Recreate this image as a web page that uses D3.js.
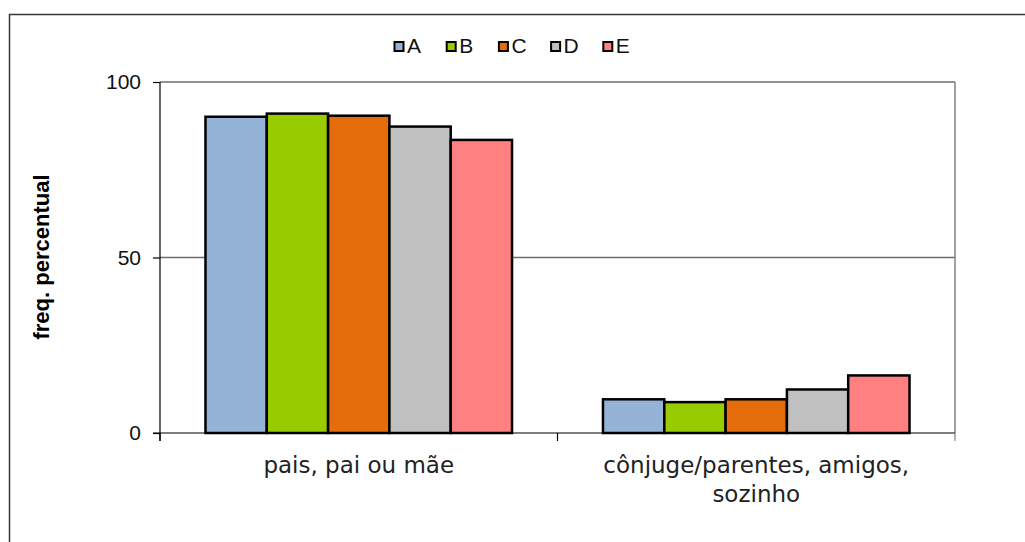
<!DOCTYPE html>
<html>
<head>
<meta charset="utf-8">
<script src="https://cdn.jsdelivr.net/npm/d3@7"></script>
<style>
  html, body { margin: 0; padding: 0; background: #fff; }
  svg { display: block; }
</style>
</head>
<body>
<svg id="chart" width="1025" height="542"></svg>
<script>
// ---- data ----
const categories = ["pais, pai ou mãe", "cônjuge/parentes, amigos, sozinho"];
const seriesNames = ["A", "B", "C", "D", "E"];
const valuesA = [90.1, 9.6];
const valuesB = [91.0, 8.8];
const valuesC = [90.4, 9.6];
const valuesD = [87.3, 12.4];
const valuesE = [83.5, 16.4];
const yTicks = [0, 50, 100];
const yTitle = "freq. percentual";

const seriesValues = [valuesA, valuesB, valuesC, valuesD, valuesE];
const colors = ["#95B3D7", "#99CC00", "#E46C0A", "#C0C0C0", "#FF8080"];

const svg = d3.select("#chart");

// outer chart border
svg.append("rect")
  .attr("x", 9.5).attr("y", 14.5)
  .attr("width", 1100).attr("height", 600)
  .attr("fill", "none").attr("stroke", "#3a3a3a").attr("stroke-width", 1.5);

const plot = { left: 160, right: 955, top: 82, bottom: 433 };

const x = d3.scaleBand().domain(categories).range([plot.left, plot.right]).padding(0);
const xs = d3.scaleBand().domain(seriesNames).range([0, x.bandwidth()])
  .paddingInner(0).paddingOuter(0.742);
const y = d3.scaleLinear().domain([0, 100]).range([plot.bottom, plot.top]);

// gridlines
svg.append("g").selectAll("line").data(yTicks.filter(d => d > 0)).join("line")
  .attr("x1", plot.left).attr("x2", plot.right)
  .attr("y1", d => y(d)).attr("y2", d => y(d))
  .attr("stroke", "#6e6e6e").attr("stroke-width", 1.5);

// plot area right border
svg.append("line")
  .attr("x1", plot.right).attr("x2", plot.right)
  .attr("y1", plot.top).attr("y2", plot.bottom)
  .attr("stroke", "#808080").attr("stroke-width", 1.5);

// bars
const groups = svg.append("g").selectAll("g").data(categories).join("g")
  .attr("transform", d => `translate(${x(d)},0)`);
groups.selectAll("rect")
  .data((c, ci) => seriesNames.map((s, si) => ({ s, si, v: seriesValues[si][ci] })))
  .join("rect")
  .attr("x", d => xs(d.s))
  .attr("width", xs.bandwidth())
  .attr("y", d => y(d.v))
  .attr("height", d => y(0) - y(d.v))
  .attr("fill", d => colors[d.si])
  .attr("stroke", "#000").attr("stroke-width", 2.5);

// y axis
const yAxis = d3.axisLeft(y).tickValues(yTicks).tickSize(7).tickPadding(12).tickFormat(d3.format("d"));
const gy = svg.append("g").attr("transform", `translate(${plot.left},0)`).call(yAxis);
gy.select(".domain").attr("stroke", "#000").attr("stroke-width", 1.2)
  .attr("d", `M0,${plot.top}V${plot.bottom + 8}`);
gy.selectAll(".tick line").attr("stroke", "#000").attr("stroke-width", 1.2);
gy.selectAll(".tick text")
  .attr("font-family", "'Liberation Sans', Arial, sans-serif")
  .attr("font-size", 21).attr("fill", "#111");

// x axis (ticks at category boundaries)
const boundaries = categories.map(c => x(c)).concat([plot.right]);
svg.append("line")
  .attr("x1", plot.left - 7).attr("x2", plot.right)
  .attr("y1", plot.bottom).attr("y2", plot.bottom)
  .attr("stroke", "#000").attr("stroke-width", 1.2);
svg.append("g").selectAll("line").data(boundaries).join("line")
  .attr("x1", d => d).attr("x2", d => d)
  .attr("y1", plot.bottom).attr("y2", plot.bottom + 8)
  .attr("stroke", (d, i) => i === boundaries.length - 1 ? "#808080" : "#000")
  .attr("stroke-width", 1.2);

// category labels with wrapping
const labelFont = "'DejaVu Sans', sans-serif";
const labelSize = 23;
const lab = svg.append("g");
categories.forEach(c => {
  const cx = x(c) + x.bandwidth() / 2;
  const t = lab.append("text")
    .attr("x", cx).attr("y", 473)
    .attr("text-anchor", "middle")
    .attr("font-family", labelFont).attr("font-size", labelSize)
    .attr("fill", "#222");
  const words = c.split(" ");
  let line = [];
  let tspan = t.append("tspan").attr("x", cx).attr("dy", 0);
  words.forEach(w => {
    line.push(w);
    tspan.text(line.join(" "));
    if (tspan.node().getComputedTextLength() > x.bandwidth() - 10 && line.length > 1) {
      line.pop();
      tspan.text(line.join(" "));
      line = [w];
      tspan = t.append("tspan").attr("x", cx).attr("dy", 28.5).text(w);
    }
  });
});

// y axis title
svg.append("text")
  .attr("transform", "translate(49,257) rotate(-90)")
  .attr("text-anchor", "middle")
  .attr("font-family", "'Liberation Sans', Arial, sans-serif")
  .attr("font-size", 22).attr("font-weight", "bold")
  .attr("fill", "#000")
  .text(yTitle);

// legend
const legend = svg.append("g").attr("transform", "translate(394.5,42)");
const legendStep = 52.2;
const li = legend.selectAll("g").data(seriesNames).join("g")
  .attr("transform", (d, i) => `translate(${i * legendStep},0)`);
li.append("rect")
  .attr("width", 9).attr("height", 9)
  .attr("fill", (d, i) => colors[i])
  .attr("stroke", "#000").attr("stroke-width", 2);
li.append("text")
  .attr("x", 12.5).attr("y", 10.8)
  .attr("font-family", "'Liberation Sans', Arial, sans-serif")
  .attr("font-size", 21).attr("fill", "#111")
  .text(d => d);
</script>
</body>
</html>
